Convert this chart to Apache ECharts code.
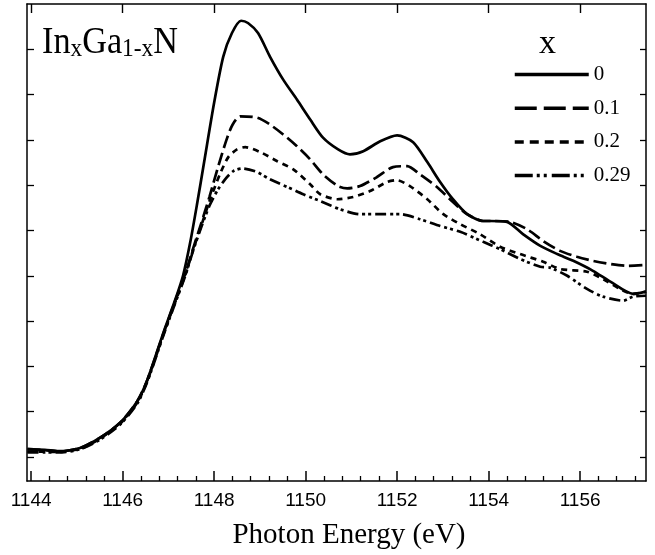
<!DOCTYPE html>
<html>
<head>
<meta charset="utf-8">
<script src="https://cdn.jsdelivr.net/npm/echarts@6/dist/echarts.min.js"></script>
<style>html,body{margin:0;padding:0;background:#fff}#c{width:655px;height:555px}</style>
</head>
<body>
<div id="c"></div>
<script>
// Tick labels / positions (eV)
const majorTicks = [1144, 1146, 1148, 1150, 1152, 1154, 1156];
const minorTicks = [1144.4, 1144.8, 1145.2, 1145.6, 1146.4, 1146.8, 1147.2, 1147.6, 1148.4, 1148.8, 1149.2, 1149.6, 1150.4, 1150.8, 1151.2, 1151.6, 1152.4, 1152.8, 1153.2, 1153.6, 1154.4, 1154.8, 1155.2, 1155.6, 1156.4, 1156.8, 1157.2];
const yTicks = [0, 1, 2, 3, 4, 5, 6, 7, 8, 9];
const seriesNames = ['0', '0.1', '0.2', '0.29'];

// x = 0
const energy0 = [1143.92, 1144.3, 1144.6, 1145.07, 1145.5, 1145.95, 1146.32, 1146.54, 1146.89, 1147.15, 1147.32, 1147.48, 1147.63, 1147.78, 1148.0, 1148.2, 1148.39, 1148.59, 1148.74, 1148.96, 1149.22, 1149.51, 1149.81, 1150.1, 1150.38, 1150.71, 1150.97, 1151.26, 1151.63, 1152.0, 1152.35, 1152.66, 1152.94, 1153.22, 1153.53, 1153.88, 1154.03, 1154.4, 1154.75, 1155.13, 1155.5, 1155.85, 1156.28, 1156.66, 1157.16, 1157.44];
const intensity0 = [0.17, 0.16, 0.13, 0.2, 0.42, 0.76, 1.23, 1.7, 2.74, 3.47, 4.0, 4.75, 5.6, 6.5, 7.82, 8.84, 9.36, 9.63, 9.58, 9.36, 8.84, 8.33, 7.89, 7.45, 7.05, 6.79, 6.68, 6.75, 6.97, 7.10, 6.95, 6.51, 6.07, 5.69, 5.36, 5.21, 5.21, 5.19, 4.92, 4.66, 4.48, 4.33, 4.11, 3.87, 3.60, 3.65];

// x = 0.1
const energy1 = [1143.92, 1144.3, 1144.6, 1145.07, 1145.5, 1145.95, 1146.32, 1146.54, 1146.89, 1147.15, 1147.37, 1147.54, 1147.7, 1147.9, 1148.1, 1148.27, 1148.4, 1148.57, 1148.94, 1149.22, 1149.51, 1149.81, 1150.1, 1150.38, 1150.71, 1150.91, 1151.19, 1151.56, 1151.91, 1152.22, 1152.5, 1152.87, 1153.22, 1153.53, 1153.88, 1154.1, 1154.47, 1154.84, 1155.19, 1155.56, 1155.93, 1156.28, 1156.66, 1157.03, 1157.44];
const intensity1 = [0.18, 0.15, 0.12, 0.2, 0.42, 0.76, 1.23, 1.7, 2.72, 3.45, 4.05, 4.6, 5.1, 5.75, 6.45, 7.0, 7.33, 7.52, 7.49, 7.34, 7.12, 6.86, 6.57, 6.24, 5.98, 5.93, 5.98, 6.18, 6.40, 6.42, 6.24, 5.96, 5.63, 5.36, 5.21, 5.21, 5.19, 5.03, 4.77, 4.55, 4.42, 4.33, 4.26, 4.22, 4.24];

// x = 0.2
const energy2 = [1143.92, 1144.3, 1144.6, 1145.07, 1145.5, 1145.95, 1146.32, 1146.54, 1146.89, 1147.15, 1147.37, 1147.54, 1147.7, 1147.9, 1148.13, 1148.31, 1148.5, 1148.68, 1149.01, 1149.38, 1149.73, 1150.1, 1150.32, 1150.69, 1151.04, 1151.41, 1151.78, 1152.0, 1152.28, 1152.66, 1153.01, 1153.38, 1153.81, 1154.25, 1154.69, 1155.19, 1155.56, 1156.15, 1156.5, 1156.87, 1157.16, 1157.44];
const intensity2 = [0.12, 0.12, 0.11, 0.18, 0.4, 0.74, 1.2, 1.68, 2.7, 3.42, 4.02, 4.57, 5.05, 5.65, 6.25, 6.62, 6.79, 6.84, 6.73, 6.53, 6.35, 6.02, 5.80, 5.69, 5.74, 5.87, 6.07, 6.11, 5.98, 5.69, 5.36, 5.14, 4.92, 4.64, 4.48, 4.31, 4.15, 4.09, 3.93, 3.71, 3.60, 3.65];

// x = 0.29
const energy3 = [1143.92, 1144.3, 1144.6, 1145.07, 1145.5, 1145.95, 1146.32, 1146.54, 1146.89, 1147.15, 1147.37, 1147.54, 1147.7, 1147.9, 1148.07, 1148.24, 1148.42, 1148.61, 1148.94, 1149.22, 1149.6, 1149.95, 1150.32, 1150.75, 1151.19, 1151.63, 1152.07, 1152.5, 1152.94, 1153.38, 1153.88, 1154.25, 1154.69, 1155.13, 1155.34, 1155.72, 1156.15, 1156.5, 1156.94, 1157.16, 1157.44];
const intensity3 = [0.1, 0.1, 0.1, 0.17, 0.38, 0.72, 1.18, 1.66, 2.68, 3.4, 4.0, 4.55, 5.02, 5.55, 5.88, 6.13, 6.31, 6.37, 6.29, 6.13, 5.96, 5.80, 5.65, 5.47, 5.36, 5.36, 5.36, 5.25, 5.10, 4.97, 4.75, 4.59, 4.37, 4.20, 4.18, 4.00, 3.71, 3.54, 3.45, 3.54, 3.56];

const energies = [energy0, energy1, energy2, energy3];
const intensities = [intensity0, intensity1, intensity2, intensity3];
const dashTypes = ['solid', [13, 5], [6, 5], [11, 4, 3, 3, 3, 4]];
const legendDashTypes = ['solid', [22, 7], [9, 6], [18, 4, 3, 4, 3, 5]];

const X_MIN = 1143.91, X_MAX = 1157.44, Y_MIN = -0.53, Y_MAX = 10;
const serif = 'Liberation Serif';

const chart = echarts.init(document.getElementById('c'), null, {renderer: 'canvas'});
const axisLine = {show: true, onZero: false, lineStyle: {color: '#000', width: 1.5}};

chart.setOption({
  animation: false,
  backgroundColor: '#fff',
  grid: {left: 27, right: 9, top: 4, bottom: 72, containLabel: false},
  xAxis: [
    {
      type: 'value', position: 'bottom', min: X_MIN, max: X_MAX,
      axisLine: axisLine,
      axisTick: {show: true, inside: true, length: 10, customValues: majorTicks, lineStyle: {color: '#000', width: 1.5}},
      axisLabel: {show: true, customValues: majorTicks, margin: 10, color: '#000', fontSize: 19, fontFamily: 'Liberation Sans', formatter: v => String(v)},
      splitLine: {show: false},
      name: 'Photon Energy (eV)', nameLocation: 'middle', nameGap: 40,
      nameTextStyle: {fontFamily: serif, fontSize: 29, color: '#000', padding: [0, 0, 0, 25]}
    },
    {
      type: 'value', position: 'bottom', min: X_MIN, max: X_MAX,
      axisLine: {show: false, onZero: false},
      axisTick: {show: true, inside: true, length: 5, customValues: minorTicks, lineStyle: {color: '#000', width: 1.3}},
      axisLabel: {show: false}, splitLine: {show: false}
    },
    {
      type: 'value', position: 'top', min: X_MIN, max: X_MAX,
      axisLine: axisLine,
      axisTick: {show: true, inside: true, length: 9, customValues: majorTicks, lineStyle: {color: '#000', width: 1.4}},
      axisLabel: {show: false}, splitLine: {show: false}
    }
  ],
  yAxis: [
    {
      type: 'value', position: 'left', min: Y_MIN, max: Y_MAX,
      axisLine: axisLine,
      axisTick: {show: true, inside: true, length: 7, customValues: yTicks, lineStyle: {color: '#000', width: 1.3}},
      axisLabel: {show: false}, splitLine: {show: false}
    },
    {
      type: 'value', position: 'right', min: Y_MIN, max: Y_MAX,
      axisLine: axisLine,
      axisTick: {show: true, inside: true, length: 6, customValues: yTicks, lineStyle: {color: '#000', width: 1.3}},
      axisLabel: {show: false}, splitLine: {show: false}
    }
  ],
  legend: {
    show: true, orient: 'vertical', left: 513, top: 64, padding: 0,
    itemWidth: 74, itemHeight: 20, itemGap: 12.7, selectedMode: false,
    itemStyle: {opacity: 0, color: 'rgba(0,0,0,0)', borderWidth: 0},
    lineStyle: {width: 3.5, color: '#000'},
    textStyle: {fontFamily: serif, fontSize: 21, color: '#000'},
    data: seriesNames.map((n, i) => ({name: n, lineStyle: {type: legendDashTypes[i], width: 3.5, color: '#000'}}))
  },
  graphic: [
    {
      type: 'text', left: 42, top: 24, scaleX: 0.9,
      style: {
        text: '{m|In}{s|x}{m|Ga}{s|1-x}{m|N}',
        fill: '#000',
        rich: {
          m: {fontFamily: serif, fontSize: 38, lineHeight: 38, verticalAlign: 'top', padding: [0, 0, 7, 0], fill: '#000'},
          s: {fontFamily: serif, fontSize: 26, lineHeight: 26, verticalAlign: 'bottom', fill: '#000'}
        }
      }
    },
    {
      type: 'text', left: 539, top: 27,
      style: {text: 'x', fontFamily: serif, fontSize: 34, fill: '#000'}
    }
  ],
  series: seriesNames.map((name, i) => ({
    name: name, type: 'line', xAxisIndex: 0, yAxisIndex: 0,
    symbol: 'none', smooth: 0.25,
    lineStyle: {color: '#000', width: 2.7, type: dashTypes[i]},
    itemStyle: {color: '#000'},
    data: energies[i].map((e, j) => [e, intensities[i][j]])
  }))
});
</script>
</body>
</html>
